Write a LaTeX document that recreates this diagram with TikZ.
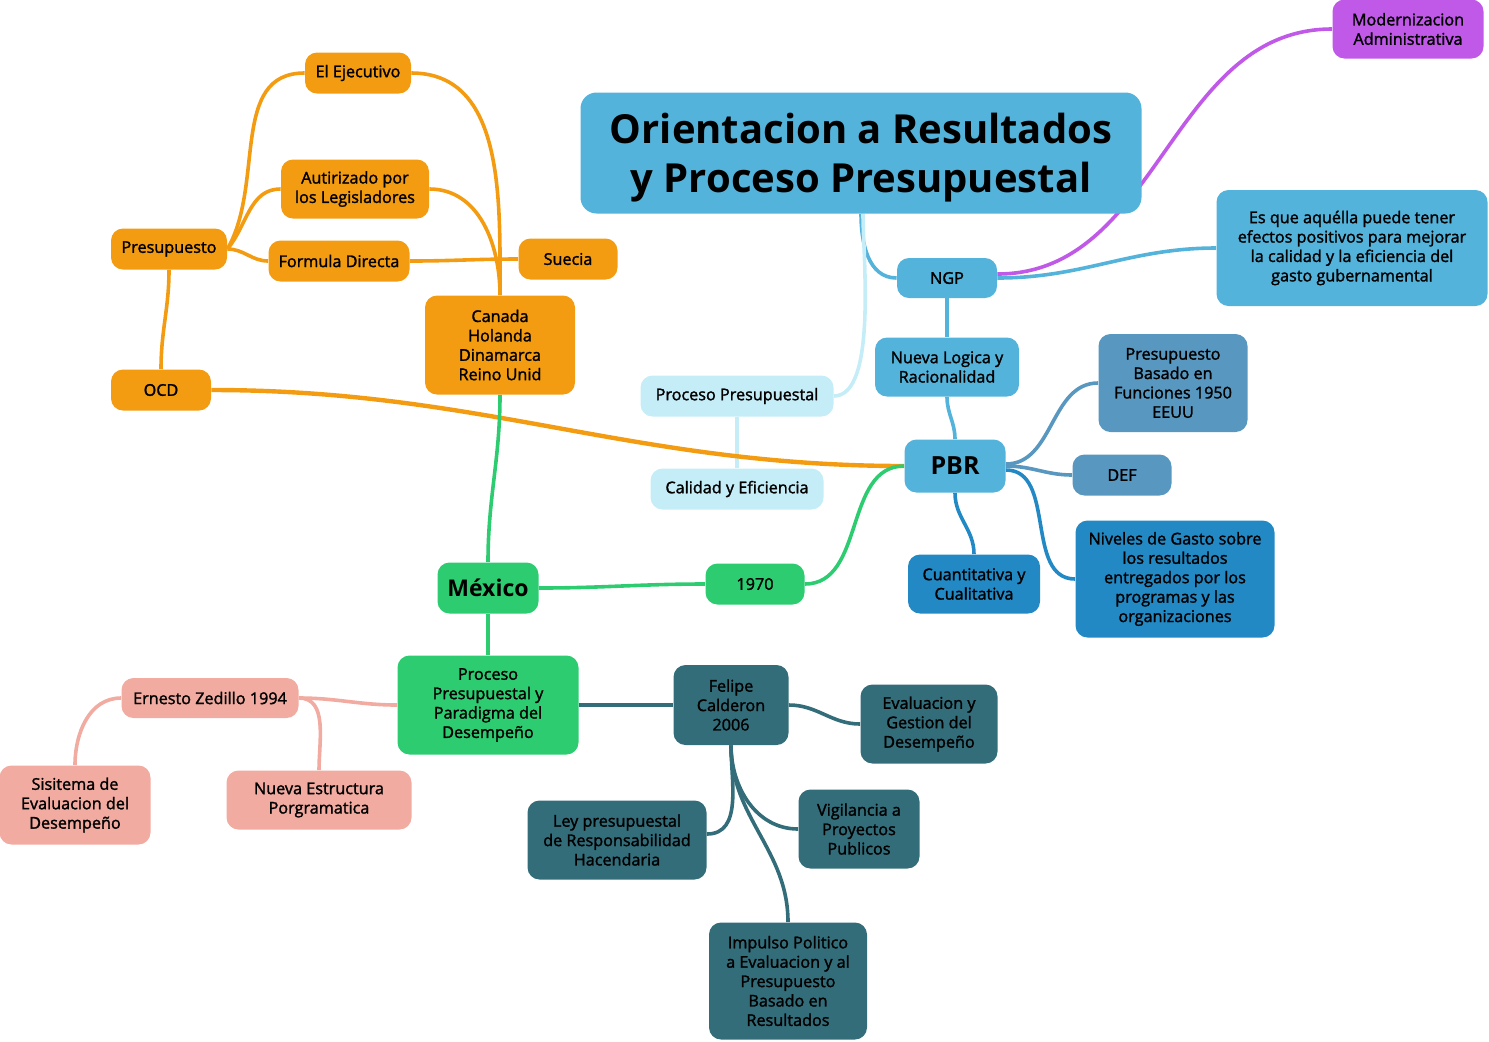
\documentclass[tikz,border=0pt]{standalone}
\usepackage{fontspec}
\setmainfont{Open Sans}
\newfontfamily\semi{Open Sans}[FakeBold=1.6]
\usetikzlibrary{backgrounds}

\definecolor{azul}{RGB}{84,179,219}
\definecolor{azulclaro}{RGB}{197,237,248}
\definecolor{morado}{RGB}{192,88,232}
\definecolor{acero}{RGB}{88,151,191}
\definecolor{azulfuerte}{RGB}{35,137,197}
\definecolor{verde}{RGB}{46,204,113}
\definecolor{naranja}{RGB}{243,156,18}
\definecolor{rosa}{RGB}{241,171,160}
\definecolor{petroleo}{RGB}{51,109,122}

\tikzset{
  tema/.style={rounded corners=6pt, align=center, inner sep=0pt, text=black,
    font=\semi\fontsize{8.1}{9.7}\selectfont},
  sz/.style 2 args={minimum width=#1*0.5pt, minimum height=#2*0.5pt},
  rama/.style={line width=1.8pt},
}

\begin{document}
\begin{tikzpicture}[x=0.5pt,y=0.5pt]
    \useasboundingbox (0,0) rectangle (1489,-1041);
    % raiz
    \node[tema, fill=azul, sz={561}{121}, rounded corners=8pt,
          font=\bfseries\fontsize{20}{24.5}\selectfont] (titulo) at (861,-153)
          {\raisebox{-2.2pt}[\height][\depth]{\parbox{260pt}{\centering Orientacion a Resultados\\y Proceso Presupuestal}}};
    \node[tema, fill=morado, sz={151}{59}] (mod) at (1408,-29) {Modernizacion\\Administrativa};
    \node[tema, fill=azul, sz={271}{116}] (ngpdesc) at (1352,-248)
          {Es que aquélla puede tener\\efectos positivos para mejorar\\la calidad y la eficiencia del\\gasto gubernamental};
    \node[tema, fill=azul, sz={100}{40}] (ngp) at (947,-278) {NGP};
    \node[tema, fill=azul, sz={144}{59}] (logica) at (947,-367) {Nueva Logica y\\Racionalidad};
    \node[tema, fill=azul, sz={101}{53}, font=\bfseries\fontsize{12.5}{14}\selectfont] (pbr) at (955,-466) {PBR};
    \node[tema, fill=acero, sz={149}{98}] (funciones) at (1173,-383)
          {Presupuesto\\Basado en\\Funciones 1950\\EEUU};
    \node[tema, fill=acero, sz={99}{41}] (def) at (1122,-475) {DEF};
    \node[tema, fill=azulfuerte, sz={199}{117}] (niveles) at (1175,-579)
          {Niveles de Gasto sobre\\los resultados\\entregados por los\\programas y las\\organizaciones};
    \node[tema, fill=azulfuerte, sz={132}{59}] (cuanti) at (974,-584) {Cuantitativa y\\Cualitativa};
    \node[tema, fill=azulclaro, sz={193}{41}] (procpres) at (737,-396) {Proceso Presupuestal};
    \node[tema, fill=azulclaro, sz={173}{41}] (calidad) at (737,-489) {Calidad y Eficiencia};
    % Mexico
    \node[tema, fill=verde, sz={99}{41}] (a1970) at (755,-584) {1970};
    \node[tema, fill=verde, sz={101}{51}, font=\bfseries\fontsize{11.5}{14}\selectfont] (mexico) at (488,-588) {México};
    \node[tema, fill=verde, sz={181}{99}] (paradigma) at (488,-705)
          {Proceso\\Presupuestal y\\Paradigma del\\Desempeño};
    % Presupuesto
    \node[tema, fill=naranja, sz={150}{99}] (paises) at (500,-345) {Canada\\Holanda\\Dinamarca\\Reino Unid};
    \node[tema, fill=naranja, sz={99}{41}] (suecia) at (568,-259) {Suecia};
    \node[tema, fill=naranja, sz={141}{41}] (formula) at (339,-261) {Formula Directa};
    \node[tema, fill=naranja, sz={148}{59}] (autorizado) at (355,-189) {Autirizado por\\los Legisladores};
    \node[tema, fill=naranja, sz={106}{41}] (ejecutivo) at (358,-73) {El Ejecutivo};
    \node[tema, fill=naranja, sz={116}{41}] (presupuesto) at (169,-249) {Presupuesto};
    \node[tema, fill=naranja, sz={100}{41}] (ocd) at (161,-390) {OCD};
    % Zedillo
    \node[tema, fill=rosa, sz={177}{40}] (zedillo) at (210,-698) {Ernesto Zedillo 1994};
    \node[tema, fill=rosa, sz={151}{79}] (sisitema) at (75,-805) {Sisitema de\\Evaluacion del\\Desempeño};
    \node[tema, fill=rosa, sz={185}{59}] (estructura) at (319,-800) {Nueva Estructura\\Porgramatica};
    % Calderon
    \node[tema, fill=petroleo, sz={115}{80}] (calderon) at (731,-705) {Felipe\\Calderon\\2006};
    \node[tema, fill=petroleo, sz={137}{79}] (evalgest) at (929,-724) {Evaluacion y\\Gestion del\\Desempeño};
    \node[tema, fill=petroleo, sz={179}{79}] (ley) at (617,-840) {Ley presupuestal\\de Responsabilidad\\Hacendaria};
    \node[tema, fill=petroleo, sz={121}{79}] (vigilancia) at (859,-829) {Vigilancia a\\Proyectos\\Publicos};
    \node[tema, fill=petroleo, sz={158}{117}] (impulso) at (788,-981)
          {Impulso Politico\\a Evaluacion y al\\Presupuesto\\Basado en\\Resultados};

    \begin{pgfonlayer}{background}
    \draw[rama, azul] (titulo.south) to[out=-90,in=180] (ngp.west);
    \draw[rama, azulclaro] ([xshift=1pt]titulo.south) to[out=-90,in=0,looseness=0.6] (procpres.east);
    \draw[rama, azulclaro] (procpres.south) -- (calidad.north);
    \draw[rama, morado] ([yshift=2pt]ngp.east) to[out=0,in=180] (mod.west);
    \draw[rama, azul] (ngp.east) to[out=0,in=180] (ngpdesc.west);
    \draw[rama, azul] (ngp.south) -- (logica.north);
    \draw[rama, azul] (logica.south) to[out=-90,in=90] (pbr.north);
    \draw[rama, acero] ([yshift=1pt]pbr.east) to[out=0,in=180] (funciones.west);
    \draw[rama, acero] (pbr.east) to[out=0,in=180] (def.west);
    \draw[rama, azulfuerte] ([yshift=-2pt]pbr.east) to[out=0,in=180] (niveles.west);
    \draw[rama, azulfuerte] (pbr.south) to[out=-90,in=90] (cuanti.north);
    \draw[line width=2.2pt, naranja] (ocd.east) to[out=0,in=180] (pbr.west);
    \draw[rama, verde] (a1970.east) to[out=0,in=180] (pbr.west);
    \draw[rama, verde] (mexico.east) to[out=0,in=180] (a1970.west);
    \draw[rama, verde] (mexico.north) to[out=90,in=-90] (paises.south);
    \draw[rama, verde] (mexico.south) -- (paradigma.north);
    \draw[rama, naranja] (presupuesto.east) to[out=60,in=180] (ejecutivo.west);
    \draw[rama, naranja] (presupuesto.east) to[out=50,in=180] (autorizado.west);
    \draw[rama, naranja] (presupuesto.east) to[out=0,in=180] (formula.west);
    \draw[rama, naranja] (presupuesto.south) to[out=-90,in=90] (ocd.north);
    \draw[rama, naranja] (ejecutivo.east) to[out=0,in=90] (paises.north);
    \draw[rama, naranja] (autorizado.east) to[out=0,in=90] (paises.north);
    \draw[rama, naranja] (formula.east) to[out=0,in=180] (suecia.west);
    \draw[rama, rosa] (paradigma.west) to[out=180,in=0] (zedillo.east);
    \draw[rama, rosa] (zedillo.west) to[out=180,in=90] (sisitema.north);
    \draw[rama, rosa] (zedillo.east) to[out=0,in=90] (estructura.north);
    \draw[rama, petroleo] (paradigma.east) to[out=0,in=180] (calderon.west);
    \draw[rama, petroleo] (calderon.east) to[out=0,in=180] (evalgest.west);
    \draw[rama, petroleo] (calderon.south) to[out=-90,in=0] ([yshift=3pt]ley.east);
    \draw[rama, petroleo] (calderon.south) to[out=-90,in=180] (vigilancia.west);
    \draw[rama, petroleo] (calderon.south) to[out=-90,in=90] (impulso.north);
    \end{pgfonlayer}
\end{tikzpicture}
\end{document}
